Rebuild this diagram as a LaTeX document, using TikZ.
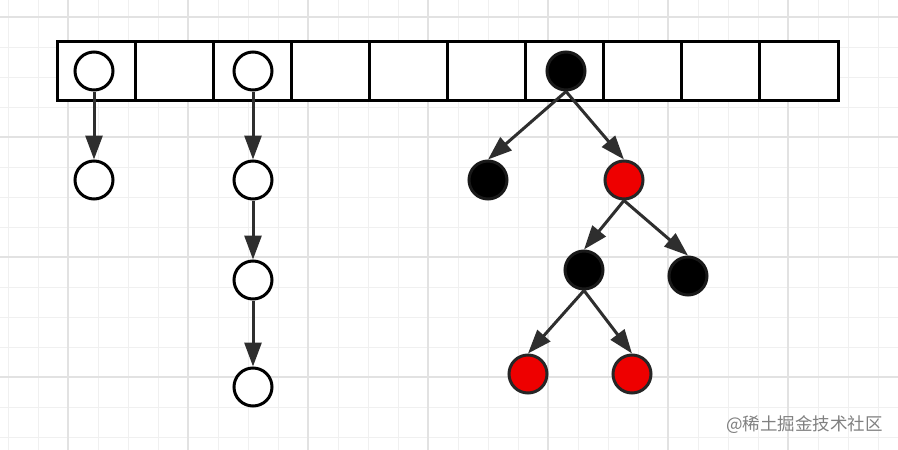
\documentclass[tikz,border=0pt]{standalone}
\usepackage{fontspec}
\newfontfamily\cjk{Noto Sans CJK SC}
\usetikzlibrary{arrows.meta}
\definecolor{gridminor}{HTML}{F0F0F0}
\definecolor{gridmajor}{HTML}{E2E2E2}
\definecolor{rbred}{HTML}{EE0000}
\definecolor{edgegray}{HTML}{2E2E2E}
\tikzset{
  nd/.style={circle, draw=black, line width=3pt, minimum size=38pt, inner sep=0pt},
  wnode/.style={nd, fill=white},
  bnode/.style={nd, fill=black, draw=black!90},
  rnode/.style={nd, fill=rbred, draw=black!85},
  cell/.style={draw=black, line width=3pt, minimum width=78.1pt, minimum height=59pt, inner sep=0pt, fill=white},
  ptr/.style={draw=edgegray, line width=3pt, -{Triangle[length=24pt,width=17pt]}},
}
\begin{document}
\begin{tikzpicture}[x=1pt,y=-1pt]
\useasboundingbox (0,0) rectangle (898,450);
\fill[white] (0,0) rectangle (898,450);
% grid
\foreach \i in {0,...,30} {
  \draw[gridminor, line width=1pt] (8+30*\i,0) -- (8+30*\i,450);
}
\foreach \j in {0,...,15} {
  \draw[gridminor, line width=1pt] (0,17+30*\j) -- (898,17+30*\j);
}
\foreach \i in {0,...,7} {
  \draw[gridmajor, line width=1.2pt] (68+120*\i,0) -- (68+120*\i,450);
}
\foreach \j in {0,...,3} {
  \draw[gridmajor, line width=1.2pt] (0,17+120*\j) -- (898,17+120*\j);
}
% array cells
\foreach \k in {0,...,9} {
  \node[cell] (c\k) at (96.05+78.1*\k,70.5) {};
}
% bucket 0
\node[wnode] (a0) at (94,71) {};
\node[wnode] (a1) at (94,180) {};
\draw[ptr] (a0.south) -- (a1.north);
% bucket 2
\node[wnode] (b0) at (253,71) {};
\node[wnode] (b1) at (253,180) {};
\node[wnode] (b2) at (253,280) {};
\node[wnode] (b3) at (253,387) {};
\draw[ptr] (b0.south) -- (b1.north);
\draw[ptr] (b1.south) -- (b2.north);
\draw[ptr] (b2.south) -- (b3.north);
% red-black tree
\node[bnode] (t0) at (566,71) {};
\node[bnode] (t1) at (488,180) {};
\node[rnode] (t2) at (624,180) {};
\node[bnode] (t3) at (584,270) {};
\node[bnode] (t4) at (688,276) {};
\node[rnode] (t5) at (528,374) {};
\node[rnode] (t6) at (632,374) {};
\draw[ptr] (t0.south) -- (t1.north);
\draw[ptr] (t0.south) -- (t2.north);
\draw[ptr] (t2.south) -- (t3.north);
\draw[ptr] (t2.south) -- (t4.north);
\draw[ptr] (t3.south) -- (t5.north);
\draw[ptr] (t3.south) -- (t6.north);
% watermark
\node[anchor=east, text=black!50, font=\cjk\fontsize{17.5}{20}\selectfont, inner sep=0pt] (wm) at (883,425) {@稀土掘金技术社区};
\end{tikzpicture}
\end{document}
